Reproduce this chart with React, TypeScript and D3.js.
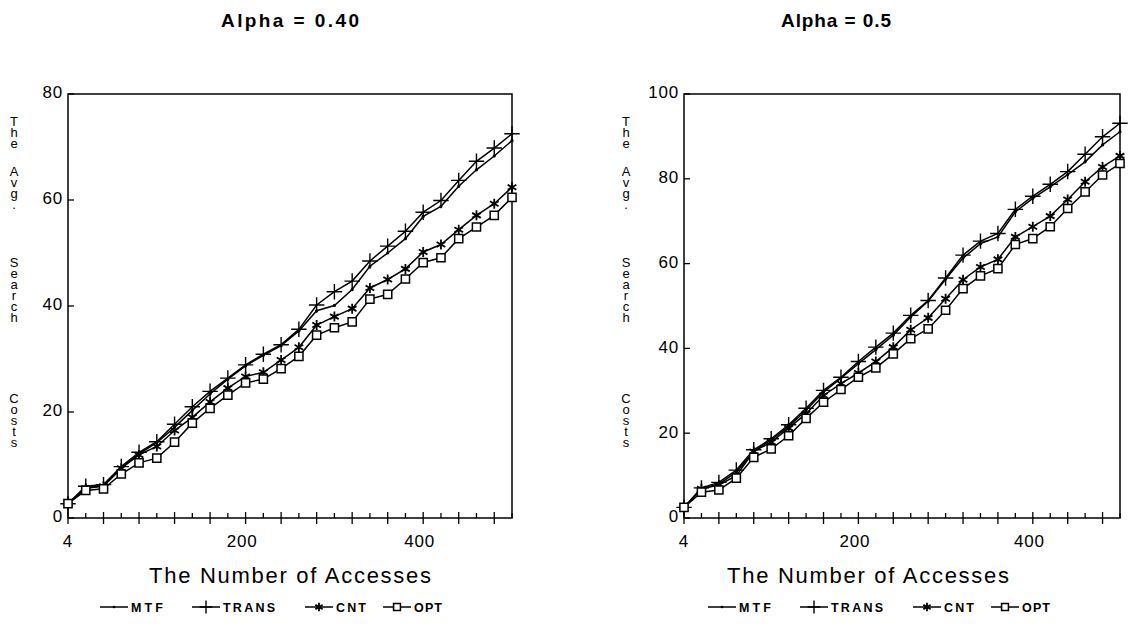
import * as d3 from "d3";

// number of accesses (x) – one point every 20 accesses
const accesses = [4, 24, 44, 64, 84, 104, 124, 144, 164, 184, 204, 224, 244, 264, 284, 304, 324, 344, 364, 384, 404, 424, 444, 464, 484, 504];

// Alpha = 0.40
const mtf40 = [2.7, 5.8, 6.1, 9.4, 12.1, 14.2, 17.1, 20.3, 23.4, 26.2, 28.7, 30.7, 32.5, 35.3, 39.1, 40.1, 43.1, 47.5, 50.0, 52.7, 56.9, 58.8, 62.6, 65.7, 68.3, 71.2];
const trans40 = [2.7, 6.0, 6.3, 9.7, 12.4, 14.4, 17.7, 21.0, 23.9, 26.4, 28.9, 30.9, 32.7, 35.6, 40.2, 42.7, 44.7, 48.5, 51.3, 54.1, 57.7, 59.9, 63.7, 67.3, 69.8, 72.5];
const cnt40 = [2.7, 5.6, 6.0, 9.4, 11.9, 13.5, 16.5, 19.0, 21.9, 24.5, 26.7, 27.5, 29.8, 32.2, 36.4, 38.0, 39.5, 43.4, 45.0, 47.0, 50.2, 51.6, 54.4, 57.1, 59.3, 62.4];
const opt40 = [2.7, 5.2, 5.5, 8.3, 10.4, 11.3, 14.3, 17.9, 20.7, 23.2, 25.5, 26.2, 28.2, 30.5, 34.5, 35.9, 37.0, 41.3, 42.2, 45.1, 48.2, 49.1, 52.7, 54.9, 57.1, 60.5];

// Alpha = 0.5
const mtf50 = [2.5, 6.9, 8.0, 10.8, 15.7, 18.4, 21.6, 25.4, 29.7, 33.0, 36.4, 39.7, 43.1, 47.4, 51.1, 56.3, 61.3, 64.7, 66.3, 72.2, 75.4, 78.1, 81.0, 84.0, 88.0, 91.1];
const trans50 = [2.5, 7.1, 8.4, 11.3, 16.1, 18.7, 22.0, 25.9, 30.1, 33.2, 36.9, 40.3, 43.6, 47.8, 51.3, 56.6, 62.0, 65.3, 67.1, 72.8, 75.9, 78.7, 81.7, 85.8, 89.9, 93.1];
const cnt50 = [2.5, 6.9, 7.8, 10.0, 15.7, 17.9, 21.2, 24.6, 28.9, 31.7, 34.2, 36.9, 40.3, 44.4, 47.2, 51.7, 56.2, 59.2, 61.0, 66.3, 68.7, 71.2, 75.1, 79.3, 82.8, 85.4];
const opt50 = [2.5, 6.1, 6.6, 9.4, 14.3, 16.3, 19.4, 23.5, 27.3, 30.3, 33.2, 35.4, 38.7, 42.3, 44.6, 49.0, 54.1, 57.1, 58.8, 64.5, 65.9, 68.7, 73.0, 76.9, 80.9, 83.6];

const seriesNames = ["MTF", "TRANS", "CNT", "OPT"];
const xTickLabels = [4, 200, 400];
const yTicks40 = [0, 20, 40, 60, 80];
const yTicks50 = [0, 20, 40, 60, 80, 100];
const yLabelWords = ["The", "Avg.", "Search", "Costs"];

const FONT = "'Liberation Sans', Arial, Helvetica, sans-serif";

const markers = {
  MTF: { type: d3.symbolCircle, size: 8, fill: "#000", sw: 0 },
  TRANS: { type: d3.symbolPlus, size: 80, fill: "none", sw: 1.4 },
  CNT: { type: d3.symbolAsterisk, size: 70, fill: "none", sw: 1.8 },
  OPT: { type: d3.symbolSquare2, size: 85, fill: "#fff", sw: 1.5 },
};

const Marker = ({ name, cx, cy, scale = 1 }) => {
  const m = markers[name];
  const path = d3.symbol(m.type, m.size * scale)();
  return (
    <path
      d={path}
      transform={`translate(${cx},${cy})`}
      fill={m.fill}
      stroke="#000"
      strokeWidth={m.sw}
    />
  );
};

const Panel = ({ title, titleX, titleW, left, right, yMax, yTicks, data, labelX, xLabelX, legendX }) => {
  const top = 94;
  const bottom = 518;
  const x = d3.scaleLinear().domain([4, 504]).range([left, right]);
  const y = d3.scaleLinear().domain([0, yMax]).range([bottom, top]);
  const line = d3
    .line()
    .x((d, i) => x(accesses[i]))
    .y((d) => y(d));

  // vertical stacked axis title, one letter under the other
  const wordStart = [121, 171, 262, 398];
  const letters = [];
  yLabelWords.forEach((w, wi) => {
    w.split("").forEach((ch, ci) => {
      letters.push({ ch, pos: wordStart[wi] + ci * 11 });
    });
  });

  const legendItems = [
    { name: "MTF", lx: legendX[0], tw: 32 },
    { name: "TRANS", lx: legendX[1], tw: 52 },
    { name: "CNT", lx: legendX[2], tw: 30 },
    { name: "OPT", lx: legendX[3], tw: 28 },
  ];

  return (
    <g fontFamily={FONT} fill="#000">
      <text x={titleX} y={27} textAnchor="middle" fontSize={19} fontWeight="bold" textLength={titleW} lengthAdjust="spacing">
        {title}
      </text>

      {letters.map((l, i) => (
        <text key={i} x={labelX} y={l.pos + 5} textAnchor="middle" fontSize={13} fill="#000">
          {l.ch}
        </text>
      ))}

      <rect x={left} y={top} width={right - left} height={bottom - top} fill="none" stroke="#000" strokeWidth={1.5} />

      {yTicks.map((t) => (
        <g key={t}>
          <line x1={left} x2={left + 6} y1={y(t)} y2={y(t)} stroke="#000" strokeWidth={1.3} />
          <text x={left - 5} y={y(t)} textAnchor="end" dominantBaseline="middle" fontSize={17} letterSpacing={0.8}>
            {t}
          </text>
        </g>
      ))}

      {accesses.map((a, i) => (
        <line
          key={a}
          x1={x(a)}
          x2={x(a)}
          y1={i % 2 === 0 ? bottom - 6 : bottom - 5}
          y2={i % 2 === 0 ? bottom + 6 : bottom}
          stroke="#000"
          strokeWidth={1.3}
        />
      ))}
      {xTickLabels.map((t) => (
        <text key={t} x={x(t)} y={547} textAnchor="middle" fontSize={17} letterSpacing={0.8}>
          {t}
        </text>
      ))}

      <text x={xLabelX} y={583} textAnchor="middle" fontSize={22} textLength={282} lengthAdjust="spacing">
        The Number of Accesses
      </text>

      {seriesNames.map((name, si) => (
        <g key={name}>
          <path d={line(data[si])} fill="none" stroke="#000" strokeWidth={1.5} />
          {data[si].map((v, i) => (
            <Marker key={i} name={name} cx={x(accesses[i])} cy={y(v)} />
          ))}
        </g>
      ))}

      {legendItems.map((it) => (
        <g key={it.name}>
          <line x1={it.lx} x2={it.lx + 28} y1={607} y2={607} stroke="#000" strokeWidth={1.5} />
          <Marker name={it.name} cx={it.lx + 14} cy={607} scale={0.7} />
          <text
            x={it.lx + 31}
            y={611.5}
            fontSize={12.5}
            fontWeight="bold"
            textLength={it.tw}
            lengthAdjust="spacing"
          >
            {it.name}
          </text>
        </g>
      ))}
    </g>
  );
};

export default function App() {
  return (
    <svg width={1134} height={627} style={{ display: "block", position: "absolute", left: 0, top: 0, background: "#fff" }}>
      <rect width={1134} height={627} fill="#fff" />
      <Panel
        title="Alpha = 0.40"
        titleX={290}
        titleW={138}
        left={68}
        right={512}
        yMax={80}
        yTicks={yTicks40}
        data={[mtf40, trans40, cnt40, opt40]}
        labelX={14}
        xLabelX={290}
        legendX={[100, 192, 305, 383]}
      />
      <Panel
        title="Alpha = 0.5"
        titleX={836}
        titleW={110}
        left={684}
        right={1120}
        yMax={100}
        yTicks={yTicks50}
        data={[mtf50, trans50, cnt50, opt50]}
        labelX={626}
        xLabelX={868}
        legendX={[708, 800, 913, 991]}
      />
    </svg>
  );
}
